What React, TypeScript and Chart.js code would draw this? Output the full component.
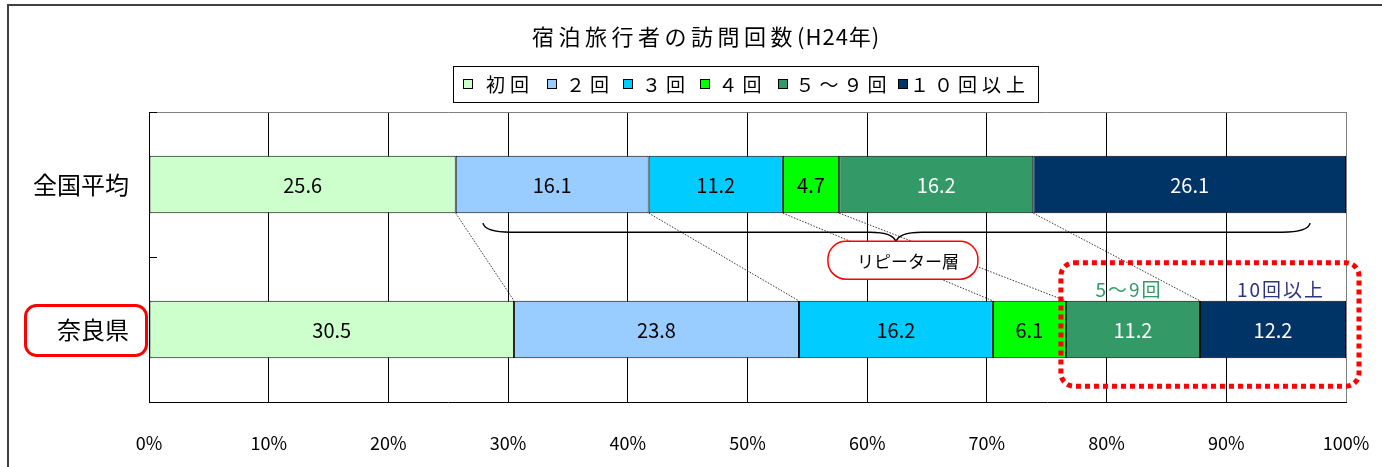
import React, { useEffect, useRef } from "react";
import { Chart, registerables } from "chart.js";

Chart.register(...registerables);

// ---------- data ----------
const TITLE_MAIN = "宿泊旅行者の訪問回数";
const TITLE_SUFFIX = "(H24年)";
const categories = ["全国平均", "奈良県"];
const seriesNames = ["初回", "２回", "３回", "４回", "５〜９回", "１０回以上"];
const seriesColors = ["#CCFFCC", "#99CCFF", "#00CCFF", "#00FF00", "#339966", "#003366"];
const valueLabelColors = ["#000000", "#000000", "#000000", "#000000", "#FFFFFF", "#FFFFFF"];
const nationalValues = [25.6, 16.1, 11.2, 4.7, 16.2, 26.1];
const naraValues = [30.5, 23.8, 16.2, 6.1, 11.2, 12.2];
const rows = [nationalValues, naraValues];
const xTickStep = 10;
const braceLabel = "リピーター層";
const highlightLabels = ["5〜9回", "10回以上"];
const highlightColors = ["#339966", "#2F3480"];
// brace span in % of the axis (annotation)
const braceFrom = 27.9;
const braceTo = 97.0;
const braceTip = 62.4;

const FONT = '"Noto Sans CJK JP", "Noto Sans", sans-serif';

// percent shares (100% stacked, as the source chart)
const shares = rows.map((r) => {
  const s = r.reduce((a, b) => a + b, 0);
  return r.map((v) => (v / s) * 100);
});

const legendBoxX = [463, 547, 623, 700, 778, 898];
const legendTextX = [486, 566, 642, 718.5, 795.5, 910];

function roundRect(ctx: CanvasRenderingContext2D, x: number, y: number, w: number, h: number, r: number) {
  ctx.beginPath();
  ctx.moveTo(x + r, y);
  ctx.lineTo(x + w - r, y);
  ctx.arcTo(x + w, y, x + w, y + r, r);
  ctx.lineTo(x + w, y + h - r);
  ctx.arcTo(x + w, y + h, x + w - r, y + h, r);
  ctx.lineTo(x + r, y + h);
  ctx.arcTo(x, y + h, x, y + h - r, r);
  ctx.lineTo(x, y + r);
  ctx.arcTo(x, y, x + r, y, r);
  ctx.closePath();
}

const annotPlugin = {
  id: "annot",
  afterDatasetsDraw(chart: any) {
    const ctx: CanvasRenderingContext2D = chart.ctx;
    const ca = chart.chartArea;
    ctx.save();
    // top plot border (gray)
    ctx.strokeStyle = "#808080";
    ctx.lineWidth = 1;
    ctx.beginPath();
    ctx.moveTo(ca.left, Math.round(ca.top) + 0.5);
    ctx.lineTo(ca.right, Math.round(ca.top) + 0.5);
    ctx.stroke();
    // inner ticks on category axis at band boundaries
    ctx.strokeStyle = "#000";
    const bandH = (ca.bottom - ca.top) / categories.length;
    for (let i = 0; i < categories.length; i++) {
      const yy = Math.round(ca.top + i * bandH) + 0.5;
      ctx.beginPath();
      ctx.moveTo(ca.left, yy);
      ctx.lineTo(ca.left + 8, yy);
      ctx.stroke();
    }
    // value labels
    ctx.font = `20px ${FONT}`;
    ctx.textAlign = "center";
    ctx.textBaseline = "middle";
    chart.data.datasets.forEach((ds: any, di: number) => {
      const meta = chart.getDatasetMeta(di);
      meta.data.forEach((el: any, i: number) => {
        const p = el.getProps(["x", "y", "base"], true);
        ctx.fillStyle = valueLabelColors[di];
        ctx.fillText(rows[i][di].toFixed(1), (p.x + p.base) / 2, p.y + 1);
      });
    });
    ctx.restore();
  },
  afterDraw(chart: any) {
    const ctx: CanvasRenderingContext2D = chart.ctx;
    const ca = chart.chartArea;
    const xs = chart.scales.x;
    const ys = chart.scales.y;
    const n = seriesNames.length;
    const el = (di: number, i: number) =>
      chart.getDatasetMeta(di).data[i].getProps(["x", "y", "base", "height"], true);
    const top0 = el(0, 0);
    const top1 = el(0, 1);
    const topBarBottom = top0.y + top0.height / 2;
    const botBarTop = top1.y - top1.height / 2;
    const botBarBottom = top1.y + top1.height / 2;

    ctx.save();
    // dotted connectors
    ctx.strokeStyle = "#333";
    ctx.lineWidth = 1;
    ctx.setLineDash([1.5, 1.5]);
    for (let k = 0; k < n - 1; k++) {
      const a = el(k, 0).x;
      const b = el(k, 1).x;
      ctx.beginPath();
      ctx.moveTo(a, topBarBottom);
      ctx.lineTo(b, botBarTop);
      ctx.stroke();
    }
    ctx.setLineDash([]);

    // brace
    const bx0 = xs.getPixelForValue(braceFrom);
    const bx1 = xs.getPixelForValue(braceTo);
    const bxm = xs.getPixelForValue(braceTip);
    const yEnd = topBarBottom + 10;
    const yMid = topBarBottom + 19;
    const yTip = topBarBottom + 29;
    ctx.strokeStyle = "#000";
    ctx.lineWidth = 1.5;
    ctx.beginPath();
    ctx.moveTo(bx0, yEnd);
    ctx.quadraticCurveTo(bx0 + 2, yMid, bx0 + 28, yMid);
    ctx.lineTo(bxm - 26, yMid);
    ctx.quadraticCurveTo(bxm - 2, yMid, bxm, yTip);
    ctx.quadraticCurveTo(bxm + 2, yMid, bxm + 26, yMid);
    ctx.lineTo(bx1 - 28, yMid);
    ctx.quadraticCurveTo(bx1 - 2, yMid, bx1, yEnd);
    ctx.stroke();

    // repeater label box
    const lw = 150, lh = 38;
    const lx = bxm + 7 - lw / 2;
    const ly = yTip - 1;
    roundRect(ctx, lx, ly, lw, lh, 18);
    ctx.fillStyle = "#fff";
    ctx.fill();
    ctx.strokeStyle = "#FF0000";
    ctx.lineWidth = 1.5;
    ctx.stroke();
    ctx.fillStyle = "#000";
    ctx.font = `17px ${FONT}`;
    ctx.textAlign = "center";
    ctx.textBaseline = "middle";
    ctx.fillText(braceLabel, lx + lw / 2 + 5, ly + lh / 2 + 1);

    // red dotted highlight box
    const hx0 = el(3, 1).x - 5;
    const hx1 = ca.right + 13;
    const hy0 = botBarTop - 38;
    const hy1 = botBarBottom + 28;
    ctx.strokeStyle = "#FF0000";
    ctx.lineWidth = 5;
    ctx.setLineDash([5, 4]);
    roundRect(ctx, hx0, hy0, hx1 - hx0, hy1 - hy0, 13);
    ctx.stroke();
    ctx.setLineDash([]);

    // highlight labels
    ctx.font = `19px ${FONT}`;
    (ctx as any).letterSpacing = "2px";
    [4, 5].forEach((di, j) => {
      const p = el(di, 1);
      ctx.fillStyle = highlightColors[j];
      ctx.fillText(highlightLabels[j], (p.x + p.base) / 2 + (j === 1 ? 8 : -4), botBarTop - 11);
    });
    (ctx as any).letterSpacing = "0px";

    // red box around 奈良県
    const ny = ys.getPixelForValue(1);
    ctx.strokeStyle = "#FF0000";
    ctx.lineWidth = 3;
    roundRect(ctx, 25.5, ny - 24, ca.left - 28, 50, 11);
    ctx.stroke();

    // outer frame
    ctx.strokeStyle = "#404040";
    ctx.lineWidth = 2;
    ctx.beginPath();
    ctx.moveTo(8, chart.height + 5);
    ctx.lineTo(8, 5);
    ctx.lineTo(chart.width + 5, 5);
    ctx.stroke();

    // title
    ctx.fillStyle = "#000";
    ctx.font = `22px ${FONT}`;
    ctx.textAlign = "left";
    ctx.textBaseline = "middle";
    (ctx as any).letterSpacing = "4.5px";
    ctx.fillText(TITLE_MAIN, 532, 37);
    const mw = ctx.measureText(TITLE_MAIN).width;
    (ctx as any).letterSpacing = "1px";
    ctx.fillText(TITLE_SUFFIX, 532 + mw, 37);

    // legend
    ctx.strokeStyle = "#000";
    ctx.lineWidth = 1;
    ctx.strokeRect(453.5, 66.5, 585, 36);
    ctx.font = `19px ${FONT}`;
    (ctx as any).letterSpacing = "5px";
    seriesNames.forEach((name, i) => {
      ctx.fillStyle = seriesColors[i];
      ctx.fillRect(legendBoxX[i] + 0.5, 79.5, 9, 9);
      ctx.strokeRect(legendBoxX[i] + 0.5, 79.5, 9, 9);
      ctx.fillStyle = "#000";
      ctx.fillText(name, legendTextX[i], 85);
    });
    (ctx as any).letterSpacing = "0px";
    ctx.restore();
  },
};

export default function App() {
  const ref = useRef<HTMLCanvasElement>(null);
  useEffect(() => {
    Chart.defaults.font.family = FONT;
    const chart = new Chart(ref.current as HTMLCanvasElement, {
      type: "bar",
      data: {
        labels: categories,
        datasets: seriesNames.map((name, di) => ({
          label: name,
          data: shares.map((r) => r[di]),
          backgroundColor: seriesColors[di],
          borderColor: "#000000",
          borderWidth: 1,
          borderSkipped: false,
          barPercentage: 0.395,
          categoryPercentage: 1,
        })),
      },
      options: {
        indexAxis: "y",
        responsive: false,
        maintainAspectRatio: false,
        animation: false,
        devicePixelRatio: 1,
        layout: { padding: { top: 112, right: 36, left: 0, bottom: 0 } },
        plugins: {
          legend: { display: false },
          title: { display: false },
          tooltip: { enabled: false },
        },
        scales: {
          x: {
            type: "linear",
            stacked: true,
            min: 0,
            max: 100,
            position: "bottom",
            ticks: {
              stepSize: xTickStep,
              callback: (v: any) => `${v}%`,
              color: "#000",
              font: { size: 18 },
              padding: 30,
              maxRotation: 0,
              autoSkip: false,
            },
            grid: {
              color: (c: any) => (c.tick && c.tick.value === 100 ? "#808080" : "#000000"),
              lineWidth: 1,
              drawTicks: false,
            },
            border: { color: "#000", width: 1 },
            afterFit: (s: any) => {
              s.height = 65;
              s.paddingRight = 0;
              s.paddingLeft = 0;
            },
          },
          y: {
            type: "category",
            stacked: true,
            ticks: { color: "#000", font: { size: 24 }, padding: 20 },
            grid: { display: false, drawTicks: false },
            border: { color: "#000", width: 1 },
            afterFit: (s: any) => {
              s.width = 149;
              s.paddingTop = 0;
              s.paddingBottom = 0;
            },
          },
        },
      } as any,
      plugins: [annotPlugin],
    });
    return () => chart.destroy();
  }, []);
  return (
    <div style={{ position: "absolute", left: 0, top: 0, width: 1382, height: 467, background: "#fff" }}>
      <canvas ref={ref} width={1382} height={467} style={{ display: "block" }} />
    </div>
  );
}
